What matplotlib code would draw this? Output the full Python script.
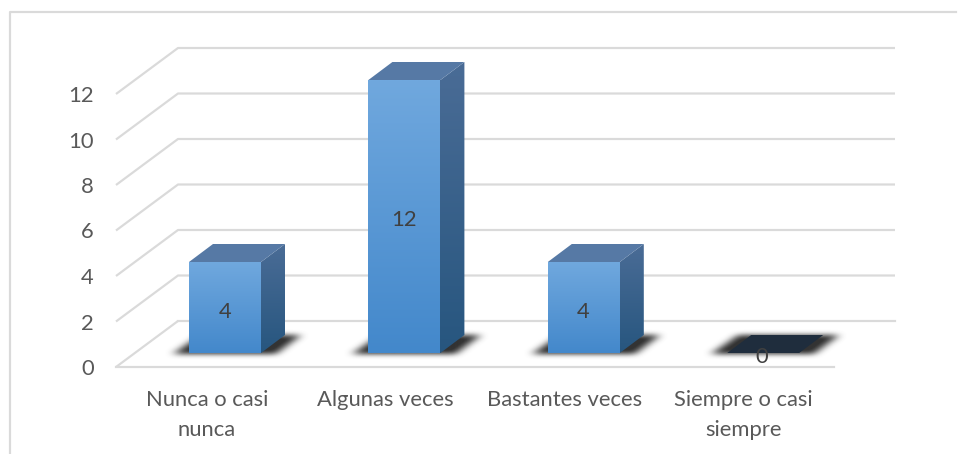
import numpy as np
import matplotlib
matplotlib.use("Agg")
import matplotlib.pyplot as plt
from matplotlib.lines import Line2D
from matplotlib.patches import Polygon
from matplotlib.path import Path

categories = ["Nunca o casi\nnunca", "Algunas veces", "Bastantes veces", "Siempre o casi\nsiempre"]
values = [4, 12, 4, 0]
y_ticks = [0, 2, 4, 6, 8, 10, 12]

W, H = 958, 454
X0, XS = 225.0, 179.4   # pixel of category 0, pixels per category
Y0, YS = 353.0, 22.75   # pixel of value 0, pixels per unit

plt.rcParams["font.family"] = ["Lato", "DejaVu Sans"]
fig = plt.figure(figsize=(W / 100, H / 100), dpi=100)
ax = fig.add_axes([0, 0, 1, 1])
ax.axis("off")

dx = lambda p: p / XS
dy = lambda p: p / YS
px_x = lambda p: (p - X0) / XS
px_y = lambda p: (Y0 - p) / YS

GRID = "#DADADA"
TEXT = "#595959"
LW = 2.2 * 0.72
HALF = 36
DX, DY = 24, 18
FS = 15.8


def grad(poly, top, bottom, z):
    """Vertical gradient clipped to a polygon."""
    t, b = np.array(matplotlib.colors.to_rgb(top)), np.array(matplotlib.colors.to_rgb(bottom))
    f = np.linspace(0, 1, 128)[:, None, None]
    img = (t[None, None, :] * (1 - f) + b[None, None, :] * f)
    xs, ys = zip(*poly)
    im = ax.imshow(img, extent=(min(xs), max(xs), min(ys), max(ys)), origin="upper",
                   aspect="auto", zorder=z, interpolation="bilinear")
    im.set_clip_path(Polygon(poly, closed=True, transform=ax.transData))


def shadow(i):
    L, R = i - dx(HALF), i + dx(HALF)
    poly = [(L - dx(16), -dy(1)), (R + dx(15), -dy(1)),
            (R + dx(40), dy(18)), (L + dx(11), dy(18))]
    x0, x1 = L - dx(45), R + dx(75)
    y0, y1 = -dy(16), dy(34)
    nx, ny = int(round((x1 - x0) * XS)), int(round((y1 - y0) * YS))
    gx = np.linspace(x0, x1, nx)
    gy = np.linspace(y1, y0, ny)
    pts = np.column_stack([a.ravel() for a in np.meshgrid(gx, gy)])
    m = Path(poly).contains_points(pts).reshape(ny, nx).astype(float)
    k = np.ones(5) / 5
    for _ in range(3):
        m = np.apply_along_axis(lambda r: np.convolve(r, k, mode="same"), 0, m)
    k = np.ones(9) / 9
    for _ in range(3):
        m = np.apply_along_axis(lambda r: np.convolve(r, k, mode="same"), 1, m)
    rgba = np.zeros((ny, nx, 4))
    rgba[..., :3] = 0.2
    rgba[..., 3] = np.clip(m * 1.05, 0, 1)
    ax.imshow(rgba, extent=(x0, x1, y0, y1), origin="upper", aspect="auto",
              zorder=2, interpolation="bilinear")


# back wall and side wall gridlines
front_y = -dy(14)
back_y = dy(32)
left_f, left_b, right_b, right_f = px_x(116), px_x(178), px_x(895), px_x(834)
for v in y_ticks:
    yf, yb = v + front_y, v + back_y
    ax.add_line(Line2D([left_f, left_b, right_b] if v else [left_f, left_b],
                       [yf, yb, yb] if v else [yf, yb],
                       color=GRID, lw=LW, zorder=1, solid_capstyle="butt"))
    ax.text(px_x(94), v + front_y - dy(2), str(v), ha="right", va="center", fontsize=FS, color=TEXT)
ax.add_line(Line2D([left_b, right_b], [back_y, back_y], color=GRID, lw=LW, zorder=1))
ax.add_line(Line2D([left_f, right_f], [front_y, front_y], color=GRID, lw=LW, zorder=1))

# bars
for i, v in enumerate(values):
    shadow(i)
    L, R = i - dx(HALF), i + dx(HALF)
    ddx, ddy = dx(DX), dy(DY)
    top = [(L, v), (R, v), (R + ddx, v + ddy), (L + ddx, v + ddy)]
    if v == 0:
        ax.add_patch(Polygon(top, closed=True, fc="#1F2D3D", ec="none", zorder=3))
    else:
        grad([(R - dx(1.5), 0), (R, 0), (R + ddx, ddy), (R + ddx, v + ddy), (R, v), (R - dx(1.5), v)],
             "#4A6C96", "#27567F", 3)
        ax.add_patch(Polygon(top, closed=True, fc="#5679A5", ec="none", zorder=3))
        grad([(L, 0), (R, 0), (R, v), (L, v)], "#70A8DE", "#4388CB", 4)
    ax.text(i + dx(0.3 - 0.6 * i), v / 2 - dy(4), str(v), ha="center", va="center",
            fontsize=FS, color="#404040", zorder=6)

# category labels
for i, c in enumerate(categories):
    for j, line in enumerate(c.split("\n")):
        ax.text(px_x(207 + 178.7 * i), px_y(400 + 29.5 * j), line, ha="center", va="center",
                fontsize=FS, color=TEXT)

# chart frame
fig.add_artist(Line2D([10 / W, 10 / W, 956 / W], [0, 1 - 12 / H, 1 - 12 / H],
                      color=GRID, lw=LW, transform=fig.transFigure))

ax.set_xlim(px_x(0), px_x(W))
ax.set_ylim(px_y(H), px_y(0))
fig.savefig("out.png", dpi=100, facecolor="white")
